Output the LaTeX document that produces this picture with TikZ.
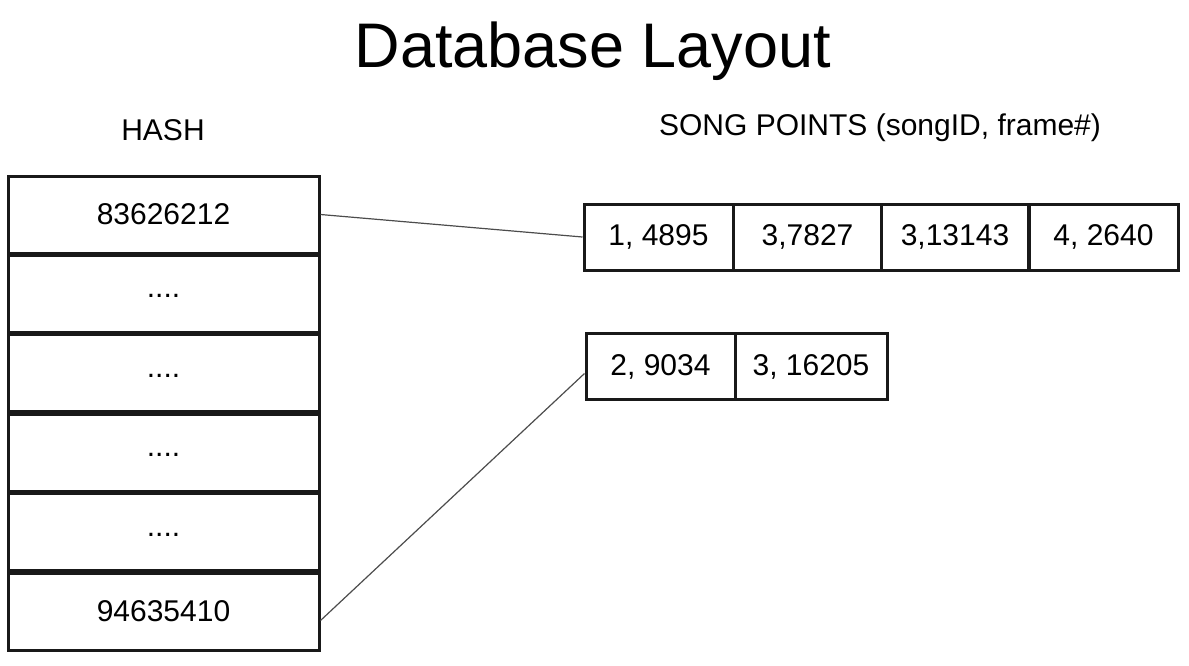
\documentclass[tikz,border=0pt]{standalone}
\usepackage{fontspec}
\setmainfont{Liberation Sans}
\begin{document}
\begin{tikzpicture}[x=1pt,y=-1pt,
  hashbox/.style={draw=black!90,line width=3pt,minimum width=311pt,minimum height=77pt,inner sep=0pt,font=\fontsize{30}{36}\selectfont},
  dotsbox/.style={hashbox,text height=8pt,text depth=0pt},
  cellbox/.style={draw=black!90,line width=3pt,minimum height=66pt,inner sep=0pt,font=\fontsize{30}{36}\selectfont},
  link/.style={draw=black!70,line width=1.2pt}]
\useasboundingbox (0,0) rectangle (1189,665);
\node[anchor=base,font=\fontsize{63}{70}\selectfont] (title) at (593,67) {Database Layout};
\node[anchor=base,font=\fontsize{30}{36}\selectfont] (hashlbl) at (163,140) {HASH};
\node[anchor=base,font=\fontsize{30}{36}\selectfont] (splbl) at (880,135) {SONG POINTS (songID, frame\#)};
% hash boxes
\node[hashbox] (h1) at (163.5,214.5) {83626212};
\node[dotsbox] (h2) at (163.5,293.9) {....};
\node[dotsbox] (h3) at (163.5,373.3) {....};
\node[dotsbox] (h4) at (163.5,452.7) {....};
\node[dotsbox] (h5) at (163.5,532.1) {....};
\node[hashbox] (h6) at (163.5,611.5) {94635410};
% song points row 1
\node[cellbox,minimum width=149pt] (r11) at (658.5,237) {1, 4895};
\node[cellbox,minimum width=148pt] (r12) at (807.5,237) {3,7827};
\node[cellbox,minimum width=147pt] (r13) at (955,237) {3,13143};
\node[cellbox,minimum width=149pt] (r14) at (1103.5,237) {4, 2640};
% row 2
\node[cellbox,minimum width=149pt] (r21) at (660.5,366.5) {2, 9034};
\node[cellbox,minimum width=152pt] (r22) at (811,366.5) {3, 16205};
% links
\draw[link] (h1.east) -- (r11.west);
\draw[link] ([yshift=-9pt]h6.east) -- ([yshift=-7pt]r21.west);
\end{tikzpicture}
\end{document}
